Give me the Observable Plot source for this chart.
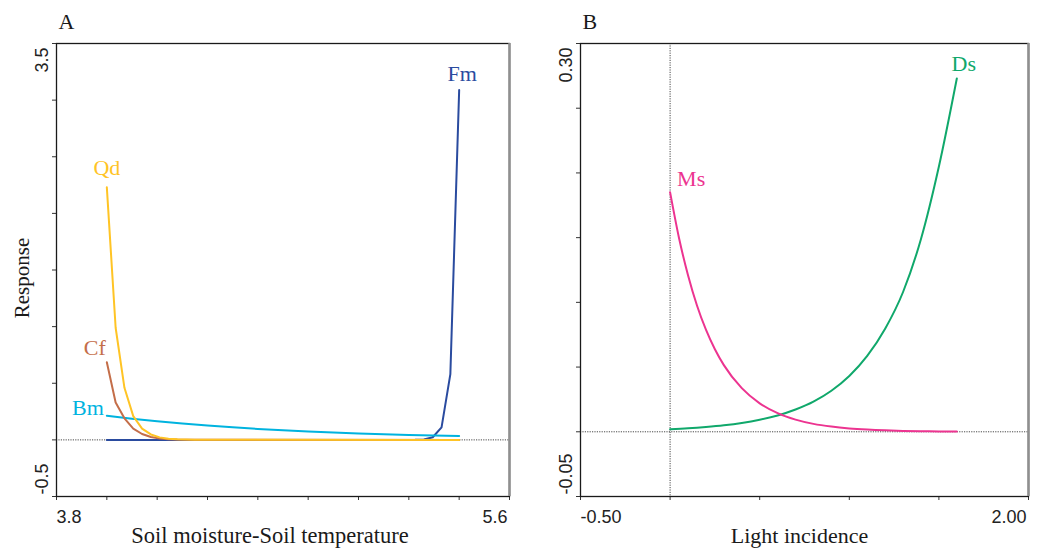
<!DOCTYPE html>
<html><head><meta charset="utf-8">
<script src="https://cdn.jsdelivr.net/npm/d3@7"></script>
<script src="https://cdn.jsdelivr.net/npm/@observablehq/plot@0.6"></script>
<style>
body{margin:0;background:#fff;}
#wrap{position:relative;width:1049px;height:548px;overflow:hidden;background:#fff;}
#a,#b{position:absolute;top:0;}
#a{left:0;} #b{left:520px;}
</style></head>
<body><div id="wrap"><div id="a"></div><div id="b"></div></div>
<script>
// ---------- Panel A data ----------
const qdX = [4.0, 4.035, 4.07, 4.105, 4.14, 4.175, 4.21, 4.245, 4.28, 4.35, 5.4];
const qdY = [2.23, 0.99, 0.46, 0.21, 0.10, 0.048, 0.022, 0.010, 0.005, 0.001, 0.0];
const cfX = [4.0, 4.035, 4.07, 4.105, 4.14, 4.175, 4.21, 4.245, 4.28, 4.35, 5.4];
const cfY = [0.685, 0.33, 0.19, 0.10, 0.052, 0.026, 0.012, 0.006, 0.003, 0.001, 0.0];
const bmX = [4.0, 4.1, 4.2, 4.3, 4.4, 4.5, 4.6, 4.7, 4.8, 4.9, 5.0, 5.1, 5.2, 5.3, 5.4];
const bmY = [0.214, 0.187, 0.164, 0.144, 0.126, 0.111, 0.097, 0.085, 0.074, 0.065, 0.057, 0.050, 0.044, 0.038, 0.034];
const fmX = [4.0, 5.19, 5.225, 5.26, 5.295, 5.33, 5.365, 5.4];
const fmY = [0.0, 0.0, 0.001, 0.004, 0.023, 0.11, 0.58, 3.09];
const aXTicks = [3.8, 4.0, 4.2, 4.4, 4.6, 4.8, 5.0, 5.2, 5.4, 5.6];
const aYTicks = [-0.5, 0, 0.5, 1, 1.5, 2, 2.5, 3, 3.5];
const aXLabelVals = [3.8, 5.6];
const aXLabels = ["3.8", "5.6"];
const aYLabelVals = [-0.5, 3.5];
const aYLabels = ["-0.5", "3.5"];

// ---------- Panel B data ----------
const msX = [0, 0.05, 0.1, 0.15, 0.2, 0.25, 0.3, 0.4, 0.5, 0.6, 0.7, 0.8, 0.9, 1.0, 1.1, 1.2, 1.3, 1.4, 1.5, 1.6];
const msY = [0.185, 0.1495, 0.121, 0.0976, 0.0789, 0.0638, 0.0515, 0.0337, 0.0220, 0.0144, 0.0094, 0.0061, 0.0040, 0.0026, 0.0017, 0.0011, 0.0007, 0.0005, 0.0003, 0.0002];
const dsX = [0, 0.1, 0.2, 0.3, 0.4, 0.5, 0.6, 0.7, 0.8, 0.9, 1.0, 1.1, 1.2, 1.3, 1.4, 1.5, 1.6];
const dsY = [0.0020, 0.0027, 0.0037, 0.0050, 0.0068, 0.0093, 0.0126, 0.0172, 0.0233, 0.0317, 0.0431, 0.0586, 0.0796, 0.108, 0.149, 0.205, 0.273];
const bXTicks = [-0.5, 0, 0.5, 1.0, 1.5, 2.0];
const bYTicks = [-0.05, 0, 0.05, 0.10, 0.15, 0.20, 0.25, 0.30];
const bXLabelVals = [-0.5, 2.0];
const bXLabels = ["-0.50", "2.00"];
const bYLabelVals = [-0.05, 0.30];
const bYLabels = ["-0.05", "0.30"];

// ---------- styling ----------
const serif = "'Liberation Serif', 'Times New Roman', serif";
const sans = "'Liberation Sans', Arial, sans-serif";
const C = {Qd: "#FFC425", Cf: "#C46E49", Bm: "#00B3DF", Fm: "#2A4B9F", Ms: "#EC3490", Ds: "#10A86B"};

const rows = (xs, ys) => xs.map((x, i) => ({x, y: ys[i]}));

function frameMarks(xDomain, xTicks, yTicks, xLV, xL, yLV, yL) {
  return [
    Plot.axisX({ticks: xTicks, tickSize: 4, tickFormat: () => "", label: null, stroke: "#333"}),
    Plot.axisY({ticks: yTicks, tickSize: 4, tickFormat: () => "", label: null, stroke: "#333"}),
    Plot.frame({stroke: "#1a1a1a", strokeWidth: 1.3}),
    Plot.ruleX([xDomain[1]], {stroke: "#8f8f8f", strokeWidth: 2.5}),
    Plot.text([xLV[0]], {x: d => d, text: () => xL[0], frameAnchor: "bottom", textAnchor: "start", lineAnchor: "top", dy: 14, fontFamily: sans, fontSize: 18, fill: "#222"}),
    Plot.text([xLV[1]], {x: d => d, text: () => xL[1], frameAnchor: "bottom", textAnchor: "end", lineAnchor: "top", dy: 14, dx: -2, fontFamily: sans, fontSize: 18, fill: "#222"}),
    Plot.text([yLV[0]], {y: d => d, text: () => yL[0], frameAnchor: "left", rotate: -90, textAnchor: "start", lineAnchor: "middle", dx: -14, dy: -2, fontFamily: sans, fontSize: 18, fill: "#222"}),
    Plot.text([yLV[1]], {y: d => d, text: () => yL[1], frameAnchor: "left", rotate: -90, textAnchor: "end", lineAnchor: "middle", dx: -14, dy: 4, fontFamily: sans, fontSize: 18, fill: "#222"})
  ];
}

function seriesLabel(name, xs, ys, idx, opts) {
  return Plot.text([name], {x: () => xs[idx], y: () => ys[idx], text: d => d, fill: C[name], fontFamily: serif, fontSize: 22, lineAnchor: "middle", ...opts});
}

// ---------- Panel A ----------
const plotA = Plot.plot({
  width: 520, height: 548,
  marginLeft: 56, marginRight: 11, marginTop: 43, marginBottom: 52,
  x: {domain: [3.8, 5.6]},
  y: {domain: [-0.5, 3.5]},
  style: {background: "transparent", overflow: "visible"},
  marks: [
    Plot.ruleY([0], {stroke: "#333", strokeWidth: 0.9, strokeDasharray: "1.2,1.2"}),
    Plot.line(rows(fmX, fmY), {x: "x", y: "y", stroke: C.Fm, strokeWidth: 2}),
    Plot.line(rows(bmX, bmY), {x: "x", y: "y", stroke: C.Bm, strokeWidth: 2}),
    Plot.line(rows(cfX, cfY), {x: "x", y: "y", stroke: C.Cf, strokeWidth: 2}),
    Plot.line(rows(qdX, qdY), {x: "x", y: "y", stroke: C.Qd, strokeWidth: 2}),
    ...frameMarks([3.8, 5.6], aXTicks, aYTicks, aXLabelVals, aXLabels, aYLabelVals, aYLabels),
    seriesLabel("Qd", qdX, qdY, 0, {textAnchor: "middle", dy: -19}),
    seriesLabel("Cf", cfX, cfY, 0, {textAnchor: "end", dx: -1, dy: -14}),
    seriesLabel("Bm", bmX, bmY, 0, {textAnchor: "end", dx: -3, dy: -8}),
    seriesLabel("Fm", fmX, fmY, fmX.length - 1, {textAnchor: "middle", dx: 3, dy: -16}),
    Plot.text(["Soil moisture-Soil temperature"], {frameAnchor: "bottom", textAnchor: "middle", lineAnchor: "middle", dy: 39, dx: -13, fontFamily: serif, fontSize: 22.5, fill: "#1a1a1a"}),
    Plot.text(["Response"], {frameAnchor: "left", rotate: -90, textAnchor: "middle", lineAnchor: "middle", dx: -34, dy: 8, fontFamily: serif, fontSize: 21, fill: "#1a1a1a"}),
    Plot.text(["A"], {frameAnchor: "top-left", textAnchor: "start", lineAnchor: "middle", dx: 2, dy: -22, fontFamily: serif, fontSize: 22, fill: "#1a1a1a"})
  ]
});
document.getElementById("a").append(plotA);

// ---------- Panel B ----------
const plotB = Plot.plot({
  width: 529, height: 548,
  marginLeft: 60, marginRight: 21, marginTop: 43, marginBottom: 52,
  x: {domain: [-0.5, 2.0]},
  y: {domain: [-0.05, 0.30]},
  style: {background: "transparent", overflow: "visible"},
  marks: [
    Plot.ruleY([0], {stroke: "#333", strokeWidth: 0.9, strokeDasharray: "1.2,1.2"}),
    Plot.ruleX([0], {stroke: "#333", strokeWidth: 0.9, strokeDasharray: "1.2,1.2"}),
    Plot.line(rows(dsX, dsY), {x: "x", y: "y", stroke: C.Ds, strokeWidth: 2, curve: "monotone-x"}),
    Plot.line(rows(msX, msY), {x: "x", y: "y", stroke: C.Ms, strokeWidth: 2, curve: "monotone-x"}),
    ...frameMarks([-0.5, 2.0], bXTicks, bYTicks, bXLabelVals, bXLabels, bYLabelVals, bYLabels),
    seriesLabel("Ms", msX, msY, 0, {textAnchor: "start", dx: 7, dy: -13}),
    seriesLabel("Ds", dsX, dsY, dsX.length - 1, {textAnchor: "middle", dx: 7, dy: -14}),
    Plot.text(["Light incidence"], {frameAnchor: "bottom", textAnchor: "middle", lineAnchor: "middle", dy: 39, dx: -5, fontFamily: serif, fontSize: 22, fill: "#1a1a1a"}),
    Plot.text(["B"], {frameAnchor: "top-left", textAnchor: "start", lineAnchor: "middle", dx: 2, dy: -22, fontFamily: serif, fontSize: 22, fill: "#1a1a1a"})
  ]
});
document.getElementById("b").append(plotB);
</script>
</body></html>
